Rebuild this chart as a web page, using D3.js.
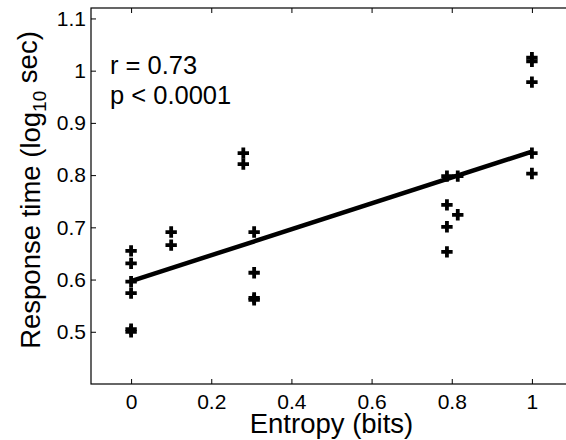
<!DOCTYPE html>
<html>
<head>
<meta charset="utf-8">
<script src="https://cdn.jsdelivr.net/npm/d3@7"></script>
<style>
  body { margin: 0; background: #fff; }
  svg { display: block; font-family: "Liberation Sans", Arial, sans-serif; }
</style>
</head>
<body>
<div id="chart"></div>
<script>
// data
var entropy = [0, 0, 0, 0, 0, 0,
               0.1, 0.1,
               0.28, 0.28,
               0.307, 0.307, 0.307, 0.307,
               0.788, 0.788, 0.788, 0.788,
               0.815, 0.815,
               1, 1, 1, 1, 1];
var respTime = [0.655, 0.631, 0.596, 0.574, 0.505, 0.500,
                0.691, 0.666,
                0.842, 0.821,
                0.691, 0.613, 0.565, 0.561,
                0.798, 0.743, 0.701, 0.653,
                0.798, 0.724,
                1.025, 1.018, 0.978, 0.842, 0.803];
var fitX = [0, 1];
var fitY = [0.597, 0.845];
var xTicks = [0, 0.2, 0.4, 0.6, 0.8, 1];
var yTicks = [0.5, 0.6, 0.7, 0.8, 0.9, 1, 1.1];
var notes = ["r = 0.73", "p < 0.0001"];

var width = 566, height = 440;
var margin = {left: 91, top: 8, right: -6, bottom: 56};
var w = width - margin.left - margin.right;
var h = height - margin.top - margin.bottom;

var svg = d3.select("#chart").append("svg")
    .attr("width", width)
    .attr("height", height);

var g = svg.append("g")
    .attr("transform", "translate(" + margin.left + "," + margin.top + ")");

var x = d3.scaleLinear().domain([-0.1, 1.1]).range([0, w]);
var y = d3.scaleLinear().domain([0.4, 1.12]).range([h, 0]);

// axes, ticks pointing inward like matlab
var fmt = function (d) { return d3.format("")(+d.toFixed(1)); };

g.append("g")
    .attr("transform", "translate(0," + h + ")")
    .call(d3.axisBottom(x).tickValues(xTicks).tickSizeInner(-5).tickSizeOuter(0)
        .tickPadding(10).tickFormat(fmt));
g.append("g")
    .call(d3.axisTop(x).tickValues(xTicks).tickSizeInner(-5).tickSizeOuter(0).tickFormat(""));

g.append("g")
    .call(d3.axisLeft(y).tickValues(yTicks).tickSizeInner(-5).tickSizeOuter(0)
        .tickPadding(5).tickFormat(fmt));
g.append("g")
    .attr("transform", "translate(" + w + ",0)")
    .call(d3.axisRight(y).tickValues(yTicks).tickSizeInner(-5).tickSizeOuter(0).tickFormat(""));

g.selectAll(".domain").remove();
g.selectAll(".tick line").attr("stroke", "#000");
g.selectAll(".tick text").attr("fill", "#000").style("font-size", "21px");

// box
g.append("rect")
    .attr("width", w)
    .attr("height", h)
    .attr("fill", "none")
    .attr("stroke", "#000")
    .attr("stroke-width", 1.2);

// fit line
var line = d3.line()
    .x(function (d) { return x(d[0]); })
    .y(function (d) { return y(d[1]); });

g.append("path")
    .datum(d3.zip(fitX, fitY))
    .attr("d", line)
    .attr("fill", "none")
    .attr("stroke", "#000")
    .attr("stroke-width", 4.5);

// points
var cross = d3.symbol().type(d3.symbolCross).size(72);
g.selectAll(".pt")
    .data(d3.zip(entropy, respTime))
    .enter()
    .append("path")
    .attr("class", "pt")
    .attr("d", cross)
    .attr("transform", function (d) {
        return "translate(" + x(d[0]) + "," + y(d[1]) + ")";
    })
    .attr("fill", "#000");

// stats text
g.selectAll(".note")
    .data(notes)
    .enter()
    .append("text")
    .attr("class", "note")
    .attr("x", 19)
    .attr("y", function (d, i) { return 66 + i * 30; })
    .style("font-size", "25.5px")
    .text(function (d) { return d; });

// axis labels
svg.append("text")
    .attr("x", margin.left + w / 2)
    .attr("y", 433)
    .attr("text-anchor", "middle")
    .style("font-size", "27.5px")
    .text("Entropy (bits)");

var yl = svg.append("text")
    .attr("transform", "translate(40,190) rotate(-90)")
    .attr("text-anchor", "middle")
    .style("font-size", "27.5px");
yl.append("tspan").text("Response time (log");
yl.append("tspan").attr("dy", "0.3em").style("font-size", "19px").text("10");
yl.append("tspan").attr("dy", "-0.3em").text(" sec)");
</script>
</body>
</html>
